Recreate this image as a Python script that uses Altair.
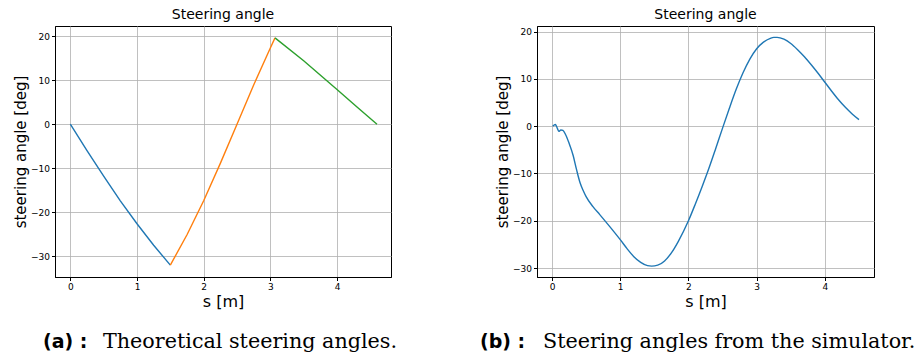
import altair as alt
import pandas as pd

# ---------------- data ----------------
# (a) theoretical steering angle, three segments
s_seg1 = [0.0, 0.25, 0.5, 0.75, 1.0, 1.25, 1.5]
ang_seg1 = [0.0, -6.0, -11.8, -17.4, -22.6, -27.5, -32.0]
s_seg2 = [1.5, 1.75, 2.0, 2.25, 2.5, 2.75, 3.0, 3.07]
ang_seg2 = [-32.0, -25.1, -17.4, -8.9, 0.0, 8.9, 17.3, 19.6]
s_seg3 = [3.07, 3.5, 4.0, 4.3, 4.6]
ang_seg3 = [19.6, 14.4, 7.9, 3.9, 0.0]

# (b) simulator steering angle
s_sim = [0.01, 0.05, 0.08, 0.10, 0.13, 0.16, 0.20, 0.25, 0.31, 0.36, 0.41, 0.46, 0.50,
         0.60, 0.70, 0.85, 1.00, 1.10, 1.20, 1.30, 1.40, 1.46, 1.55, 1.65, 1.75,
         1.85, 2.00, 2.10, 2.20, 2.30, 2.40, 2.50, 2.60, 2.70, 2.80, 2.90, 3.00,
         3.10, 3.20, 3.25, 3.30, 3.40, 3.50, 3.60, 3.70, 3.80, 3.90, 4.00, 4.10,
         4.20, 4.30, 4.40, 4.50]
ang_sim = [0.0, 0.35, -0.5, -1.1, -0.8, -0.9, -1.8, -3.6, -6.2, -9.2, -11.9, -13.7, -14.9,
           -17.0, -18.7, -21.3, -24.0, -25.9, -27.6, -28.8, -29.5, -29.6, -29.4, -28.5, -26.8,
           -24.4, -20.0, -16.5, -12.8, -8.9, -4.7, -0.4, 3.8, 7.8, 11.3, 14.2, 16.4,
           17.8, 18.6, 18.8, 18.8, 18.4, 17.5, 16.2, 14.7, 13.0, 11.2, 9.3, 7.4,
           5.6, 4.0, 2.6, 1.4]

segments = ["seg1", "seg2", "seg3"]
seg_colors = ["#1f77b4", "#ff7f0e", "#2ca02c"]

x_ticks = [0, 1, 2, 3, 4]
y_ticks = [-30, -20, -10, 0, 10, 20]

title_text = "Steering angle"
x_title = "s [m]"
y_title = "steering angle [deg]"

cap_labels = ["(a) :", "(b) :"]
cap_texts = ["Theoretical steering angles.", "Steering angles from the simulator."]

# ---------------- tables ----------------
df_a = pd.concat([
    pd.DataFrame({"s": s_seg1, "angle": ang_seg1, "seg": segments[0]}),
    pd.DataFrame({"s": s_seg2, "angle": ang_seg2, "seg": segments[1]}),
    pd.DataFrame({"s": s_seg3, "angle": ang_seg3, "seg": segments[2]}),
], ignore_index=True)
df_a["order"] = range(len(df_a))
df_b = pd.DataFrame({"s": s_sim, "angle": ang_sim})

FONT = "DejaVu Sans"


def x_enc(domain):
    return alt.X("s:Q", scale=alt.Scale(domain=domain, nice=False, zero=False),
                 axis=alt.Axis(values=x_ticks, title=x_title, format="d",
                               titleFontSize=16, titlePadding=2))


def y_enc(domain):
    return alt.Y("angle:Q", scale=alt.Scale(domain=domain, nice=False, zero=False),
                 axis=alt.Axis(values=y_ticks, title=y_title, format="d",
                               titleFontSize=15, titlePadding=2))


def caption(label, text, x_label, x_text, y):
    lab = alt.Chart(pd.DataFrame({"t": [label]})).mark_text(
        align="left", baseline="alphabetic", font="DejaVu Sans", fontWeight="bold",
        fontSize=19, color="black"
    ).encode(x=alt.value(x_label), y=alt.value(y), text="t:N")
    txt = alt.Chart(pd.DataFrame({"t": [text]})).mark_text(
        align="left", baseline="alphabetic", font="DejaVu Serif",
        fontSize=20.7, color="black"
    ).encode(x=alt.value(x_text), y=alt.value(y), text="t:N")
    return lab + txt


line_a = alt.Chart(df_a).mark_line(strokeWidth=1.4, clip=True).encode(
    x=x_enc([-0.23, 4.81]),
    y=y_enc([-34.7, 22.3]),
    color=alt.Color("seg:N", scale=alt.Scale(domain=segments, range=seg_colors), legend=None),
    order="order:Q",
)
chart_a = alt.layer(line_a, caption(cap_labels[0], cap_texts[0], -12, 48, 322)).properties(
    width=336, height=251, title=title_text)

line_b = alt.Chart(df_b).mark_line(strokeWidth=1.4, color="#1f77b4", clip=True,
                                   interpolate="monotone").encode(
    x=x_enc([-0.22, 4.72]),
    y=y_enc([-31.9, 21.2]),
)
chart_b = alt.layer(line_b, caption(cap_labels[1], cap_texts[1], -57, 6, 322)).properties(
    width=337, height=251, title=title_text)

chart = alt.hconcat(chart_a, chart_b, spacing=146, bounds="flush").properties(
    padding={"left": 13, "top": 7, "right": 0, "bottom": 0}
).configure(
    font=FONT,
).configure_view(
    stroke="black", strokeWidth=1
).configure_axis(
    labelFont=FONT, titleFont=FONT, labelFontSize=9, labelColor="black",
    titleColor="black", titleFontWeight="normal",
    domainColor="black", domainWidth=1, tickColor="black", tickSize=3.5, tickWidth=1,
    labelPadding=2, gridColor="#b0b0b0", gridWidth=0.8,
).configure_title(
    font=FONT, fontSize=14, fontWeight="normal", color="black", offset=4, anchor="middle"
).configure_concat(spacing=146)

chart.save("out.html", embed_options={"renderer": "svg", "actions": False})
